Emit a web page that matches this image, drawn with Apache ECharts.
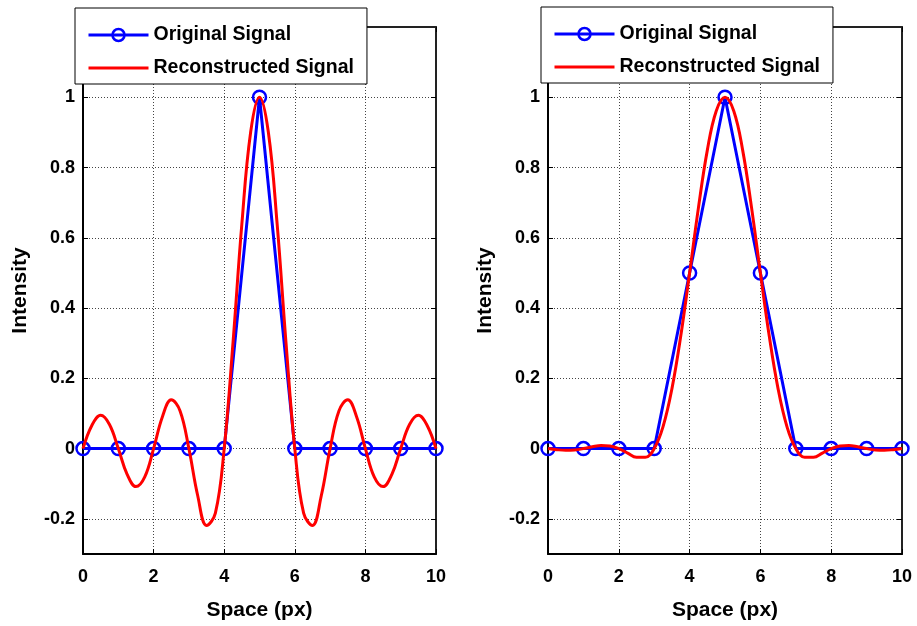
<!DOCTYPE html>
<html>
<head>
<meta charset="utf-8">
<script src="https://cdn.jsdelivr.net/npm/echarts@6/dist/echarts.min.js"></script>
<style>
html,body{margin:0;padding:0;background:#fff;}
#chart{width:917px;height:626px;}
</style>
</head>
<body>
<div id="chart"></div>
<script>
// ---- data ----
const sampleX = [0, 1, 2, 3, 4, 5, 6, 7, 8, 9, 10];
const leftOriginal = [0, 0, 0, 0, 0, 1, 0, 0, 0, 0, 0];
const rightOriginal = [0, 0, 0, 0, 0.5, 1, 0.5, 0, 0, 0, 0];

const reconX = [0, 0.25, 0.5, 0.75, 1, 1.25, 1.5, 1.75, 2, 2.25, 2.5, 2.75, 3, 3.25, 3.5, 3.75, 4, 4.25, 4.5, 4.75, 5,
  5.25, 5.5, 5.75, 6, 6.25, 6.5, 6.75, 7, 7.25, 7.5, 7.75, 8, 8.25, 8.5, 8.75, 9, 9.25, 9.5, 9.75, 10];
const leftRecon = [0, 0.0658, 0.0947, 0.0686, 0, -0.0733, -0.1081, -0.0803, 0, 0.0909, 0.1388, 0.1073, 0,
  -0.1341, -0.2188, -0.1839, 0, 0.3024, 0.6388, 0.9010, 1,
  0.9010, 0.6388, 0.3024, 0, -0.1839, -0.2188, -0.1341, 0, 0.1073, 0.1388, 0.0909, 0,
  -0.0803, -0.1081, -0.0733, 0, 0.0686, 0.0947, 0.0658, 0];
const rightRecon = [0, -0.0031, -0.0048, -0.0038, 0, 0.0051, 0.0087, 0.0077, 0, -0.0128, -0.0247, -0.0248, 0,
  0.0626, 0.1700, 0.3203, 0.5, 0.6859, 0.8488, 0.9603, 1,
  0.9603, 0.8488, 0.6859, 0.5, 0.3203, 0.1700, 0.0626, 0, -0.0248, -0.0247, -0.0128, 0,
  0.0077, 0.0087, 0.0051, 0, -0.0038, -0.0048, -0.0031, 0];

const yTicks = [-0.2, 0, 0.2, 0.4, 0.6, 0.8, 1];
const xTicksInterval = 2;
const seriesNames = ['Original Signal', 'Reconstructed Signal'];
const xTitle = 'Space (px)';
const yTitle = 'Intensity';

// ---- build ----
const FONT = '"Liberation Sans", Arial, sans-serif';
const pair = (xs, ys) => xs.map((x, i) => [x, ys[i]]);

const grids = [
  {left: 83, top: 27, width: 353, height: 529},
  {left: 548, top: 27, width: 354, height: 529}
];

const xAxes = [], yAxes = [];
grids.forEach((g, gi) => {
  xAxes.push({
    gridIndex: gi, type: 'value', min: 0, max: 10, interval: xTicksInterval, position: 'bottom',
    axisLine: {show: true, onZero: false, lineStyle: {color: '#000', width: 2}},
    axisTick: {show: true, inside: true, length: 5, lineStyle: {color: '#000'}},
    axisLabel: {color: '#000', fontWeight: 'bold', fontSize: 18, fontFamily: FONT, margin: 14},
    splitLine: {show: true, lineStyle: {type: [1, 2], color: '#444', width: 1}},
    name: xTitle, nameLocation: 'middle', nameGap: 46,
    nameTextStyle: {color: '#000', fontWeight: 'bold', fontSize: 21, fontFamily: FONT}
  });
  xAxes.push({
    gridIndex: gi, type: 'value', min: 0, max: 10, interval: xTicksInterval, position: 'top',
    axisLine: {show: true, onZero: false, lineStyle: {color: '#222', width: 2}},
    axisTick: {show: true, inside: true, length: 5, lineStyle: {color: '#000'}},
    axisLabel: {show: false}, splitLine: {show: false}
  });
  yAxes.push({
    gridIndex: gi, type: 'value', min: -0.3, max: 1.2, position: 'left',
    axisLine: {show: true, onZero: false, lineStyle: {color: '#000', width: 2}},
    axisTick: {show: true, inside: true, length: 5, customValues: yTicks, lineStyle: {color: '#000'}},
    axisLabel: {customValues: yTicks, color: '#000', fontWeight: 'bold', fontSize: 18, fontFamily: FONT, margin: 8,
      formatter: v => String(v)},
    splitLine: {show: true, lineStyle: {type: [1, 2], color: '#444', width: 1}},
    name: yTitle, nameLocation: 'middle', nameGap: 52,
    nameTextStyle: {color: '#000', fontWeight: 'bold', fontSize: 21, fontFamily: FONT}
  });
  yAxes.push({
    gridIndex: gi, type: 'value', min: -0.3, max: 1.2, position: 'right',
    axisLine: {show: true, onZero: false, lineStyle: {color: '#222', width: 2}},
    axisTick: {show: true, inside: true, length: 5, customValues: yTicks, lineStyle: {color: '#000'}},
    axisLabel: {show: false}, splitLine: {show: false}
  });
});

const origData = [leftOriginal, rightOriginal];
const reconData = [leftRecon, rightRecon];
const series = [];
grids.forEach((g, gi) => {
  series.push({
    name: seriesNames[0], type: 'line', xAxisIndex: gi * 2, yAxisIndex: gi * 2,
    data: pair(sampleX, origData[gi]),
    symbol: 'circle', symbolSize: 13, showSymbol: true,
    lineStyle: {color: '#0000ff', width: 3},
    itemStyle: {color: 'rgba(255,255,255,0)', borderColor: '#0000ff', borderWidth: 2.5},
    z: 2, animation: false
  });
  series.push({
    name: seriesNames[1], type: 'line', xAxisIndex: gi * 2, yAxisIndex: gi * 2,
    data: pair(reconX, reconData[gi]),
    symbol: 'none', smooth: 0.4,
    lineStyle: {color: '#ff0000', width: 3},
    itemStyle: {color: '#ff0000'},
    z: 3, animation: false
  });
});

const legendData = [
  {name: seriesNames[0], lineStyle: {color: '#0000ff', width: 3},
   itemStyle: {color: 'rgba(255,255,255,0)', borderColor: '#0000ff', borderWidth: 2.5}},
  {name: seriesNames[1], lineStyle: {color: '#ff0000', width: 3},
   itemStyle: {opacity: 0, color: 'rgba(0,0,0,0)', borderWidth: 0}}
];

const legendBase = {
  orient: 'vertical', data: legendData, itemWidth: 60, itemHeight: 15, itemGap: 13,
  backgroundColor: '#fff', borderColor: '#000', borderWidth: 1, borderRadius: 0,
  padding: [17, 13, 6, 12], selectedMode: false,
  textStyle: {color: '#000', fontWeight: 'bold', fontSize: 19.5, fontFamily: FONT}
};

const option = {
  animation: false,
  backgroundColor: '#fff',
  textStyle: {fontFamily: FONT},
  grid: grids,
  xAxis: xAxes,
  yAxis: yAxes,
  legend: [
    Object.assign({}, legendBase, {left: 75, top: 8, z: 10}),
    Object.assign({}, legendBase, {left: 541, top: 7, z: 10})
  ],
  series: series
};

const chart = echarts.init(document.getElementById('chart'), null, {renderer: 'canvas'});
chart.setOption(option);
</script>
</body>
</html>
